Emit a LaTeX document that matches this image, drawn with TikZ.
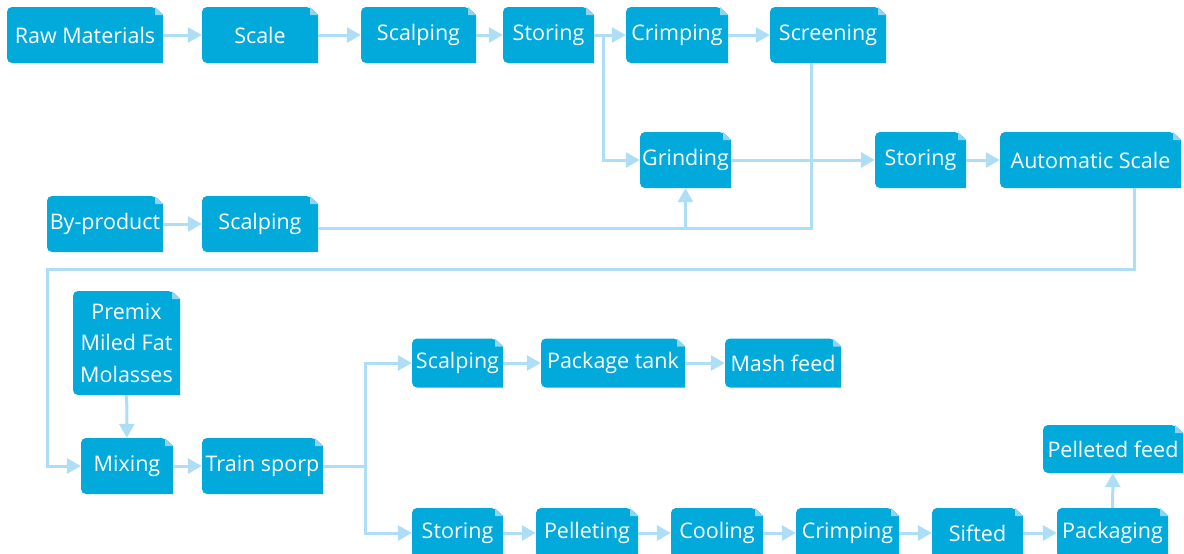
\documentclass[tikz,border=0pt]{standalone}
\usepackage{fontspec}
\setmainfont{Open Sans}
\usetikzlibrary{arrows.meta}

\definecolor{boxblue}{HTML}{02A9DB}
\definecolor{foldblue}{HTML}{8ED5F0}
\definecolor{linkblue}{HTML}{AEDDF6}

\tikzset{
  proc/.style={fill=white, inner sep=0pt, minimum height=56pt, text=white,
    font=\fontsize{21.5}{25}\selectfont,
    path picture={
      \fill[boxblue] (path picture bounding box.west) [rounded corners=5pt]
        -- (path picture bounding box.north west)
        -- ([xshift=-8pt]path picture bounding box.north east) [sharp corners]
        -- ([yshift=-8pt]path picture bounding box.north east)
        -- (path picture bounding box.south east) [rounded corners=5pt]
        -- (path picture bounding box.south west) [sharp corners] -- cycle;
      \fill[foldblue] ([xshift=-8pt]path picture bounding box.north east)
        -- ([yshift=-8pt]path picture bounding box.north east)
        -- ([xshift=-8pt,yshift=-8pt]path picture bounding box.north east) -- cycle;
    }},
  link/.style={draw=linkblue, line width=3pt},
  flow/.style={link, -{Triangle[length=14pt,width=15pt]}},
}

\begin{document}
\begin{tikzpicture}[x=1pt,y=-1pt]
  \useasboundingbox (0,0) rectangle (1184,554);

  % grain intake
  \node[proc, minimum width=156pt] (raw) at (85,35) {Raw Materials};
  \node[proc, minimum width=116pt] (scale) at (260,35) {Scale};
  \node[proc, minimum width=115pt] (scalpA) at (418.5,35) {Scalping};
  \node[proc, minimum width=91pt] (storeA) at (548.5,35) {Storing};
  \node[proc, minimum width=102pt] (crimpA) at (677,35) {Crimping};
  \node[proc, minimum width=116pt] (screen) at (828,35) {Screening};

  \node[proc, minimum width=91pt] (grind) at (685.5,160) {Grinding};
  \node[proc, minimum width=91pt] (storeB) at (920.5,160) {Storing};
  \node[proc, minimum width=181pt] (autoscale) at (1090.5,160) {Automatic Scale};

  \node[proc, minimum width=116pt] (byprod) at (105,224) {By-product};
  \node[proc, minimum width=116pt] (scalpB) at (260,224) {Scalping};

  % mixing
  \node[proc, minimum width=107pt, minimum height=104pt, align=center,
        font=\fontsize{21.5}{31.5}\selectfont] (premix) at (126.5,343) {Premix\\Miled Fat\\Molasses};
  \node[proc, minimum width=92pt] (mixing) at (127,466) {Mixing};
  \node[proc, minimum width=121pt] (trainsp) at (262.5,466) {Train sporp};

  % mash line
  \node[proc, minimum width=91pt, minimum height=49pt] (scalpC) at (457.5,363) {Scalping};
  \node[proc, minimum width=144pt, minimum height=49pt] (pkgtank) at (613,363) {Package tank};
  \node[proc, minimum width=116pt, minimum height=49pt] (mash) at (783,363) {Mash feed};

  % pellet line
  \node[proc, minimum width=91pt, minimum height=50pt] (storeC) at (457.5,533) {Storing};
  \node[proc, minimum width=102pt, minimum height=50pt] (pellet) at (587,533) {Pelleting};
  \node[proc, minimum width=92pt, minimum height=50pt] (cool) at (717,533) {Cooling};
  \node[proc, minimum width=103pt, minimum height=50pt] (crimpB) at (847.5,533) {Crimping};
  \node[proc, minimum width=91pt, minimum height=50pt] (sifted) at (977.5,533) {Sifted};
  \node[proc, minimum width=111pt, minimum height=50pt] (packag) at (1112.5,533) {Packaging};
  \node[proc, minimum width=140pt, minimum height=48pt] (pellfeed) at (1113,449) {Pelleted feed};

  \coordinate (loopback) at (47,269);
  \coordinate (screenjoin) at ([yshift=-4pt]scalpB.east);

  \draw[flow] (raw) -- (scale);
  \draw[flow] (scale) -- (scalpA);
  \draw[flow] (scalpA) -- (storeA);
  \draw[flow] (storeA) -- (crimpA);
  \draw[flow] (crimpA) -- (screen);
  \draw[flow] (storeA.east) -- ++(9,0) |- (grind.west);
  \draw[link] ([xshift=-17pt]screen.south) |- (screenjoin);
  \draw[flow] (grind.south |- screenjoin) -- (grind.south);
  \draw[flow] (byprod) -- (scalpB);
  \draw[flow] (grind) -- (storeB);
  \draw[flow] (storeB) -- (autoscale);
  \draw[flow] ([xshift=44pt]autoscale.south) |- (loopback) |- (mixing.west);

  \draw[flow] (premix) -- (mixing);
  \draw[flow] (mixing) -- (trainsp);
  \draw[flow] (trainsp.east) -- ++(42,0) |- (scalpC.west);
  \draw[flow] (trainsp.east) -- ++(42,0) |- (storeC.west);

  \draw[flow] (scalpC) -- (pkgtank);
  \draw[flow] (pkgtank) -- (mash);

  \draw[flow] (storeC) -- (pellet);
  \draw[flow] (pellet) -- (cool);
  \draw[flow] (cool) -- (crimpB);
  \draw[flow] (crimpB) -- (sifted);
  \draw[flow] (sifted) -- (packag);
  \draw[flow] (packag) -- (pellfeed);
\end{tikzpicture}
\end{document}
